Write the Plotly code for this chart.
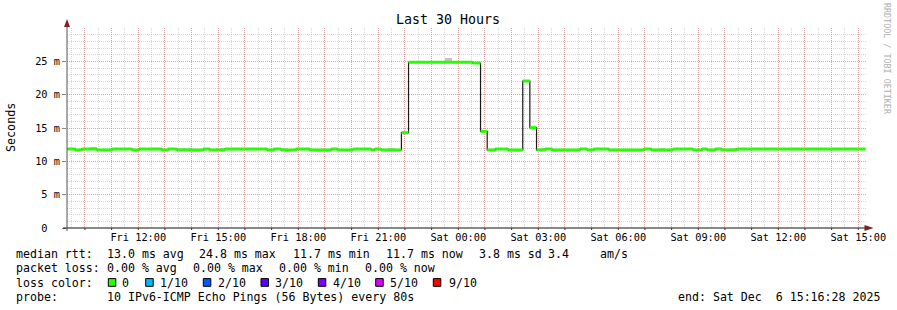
import plotly.graph_objects as go
import pandas as pd

# ---------------- data ----------------
LOW, HIGH = 11.7, 11.85
step_start = [
    "2025-12-05 09:20", "2025-12-05 09:38", "2025-12-05 09:53", "2025-12-05 10:27",
    "2025-12-05 11:01", "2025-12-05 11:46", "2025-12-05 12:02", "2025-12-05 12:53",
    "2025-12-05 13:07", "2025-12-05 13:27", "2025-12-05 14:26", "2025-12-05 14:41",
    "2025-12-05 15:15", "2025-12-05 16:50", "2025-12-05 17:05", "2025-12-05 17:21",
    "2025-12-05 17:55", "2025-12-05 18:26", "2025-12-05 19:14", "2025-12-05 19:29",
    "2025-12-05 20:03", "2025-12-05 20:44", "2025-12-05 20:52", "2025-12-05 21:06",
    "2025-12-05 21:52", "2025-12-05 22:08", "2025-12-06 00:32", "2025-12-06 00:50",
    "2025-12-06 01:05", "2025-12-06 01:23", "2025-12-06 01:52", "2025-12-06 02:25",
    "2025-12-06 02:41", "2025-12-06 02:56", "2025-12-06 03:15", "2025-12-06 03:31",
    "2025-12-06 04:34", "2025-12-06 04:50", "2025-12-06 05:05", "2025-12-06 05:39",
    "2025-12-06 06:58", "2025-12-06 07:14", "2025-12-06 08:03", "2025-12-06 08:48",
    "2025-12-06 09:08", "2025-12-06 09:20", "2025-12-06 09:38", "2025-12-06 09:53",
    "2025-12-06 10:27",
]
median_ms = [
    HIGH, LOW, HIGH, LOW,
    HIGH, LOW, HIGH, LOW,
    HIGH, LOW, HIGH, LOW,
    HIGH, LOW, HIGH, LOW,
    HIGH, LOW, HIGH, LOW,
    HIGH, LOW, HIGH, LOW,
    14.3, 24.85, 24.75, 14.5,
    LOW, HIGH, LOW, 22.05,
    15.05, LOW, HIGH, LOW,
    HIGH, LOW, HIGH, LOW,
    HIGH, LOW, HIGH, LOW,
    HIGH, LOW, HIGH, LOW,
    HIGH,
]
data_end = "2025-12-06 15:16"

# smoke (spread of pings above the median)
smoke_start = ["2025-12-05 10:11", "2025-12-05 13:23", "2025-12-05 14:55", "2025-12-05 17:21",
               "2025-12-05 21:22", "2025-12-05 23:30", "2025-12-06 02:56", "2025-12-06 07:29",
               "2025-12-06 10:11"]
smoke_end = ["2025-12-05 10:27", "2025-12-05 13:58", "2025-12-05 15:15", "2025-12-05 17:37",
             "2025-12-05 21:38", "2025-12-05 23:46", "2025-12-06 03:15", "2025-12-06 07:45",
             "2025-12-06 10:27"]
smoke_base = [HIGH, LOW, LOW, LOW, LOW, 24.85, LOW, LOW, LOW]
smoke_max = [12.2, 12.05, 12.05, 12.05, 12.05, 25.45, 12.05, 12.05, 12.05]

x_range = ["2025-12-05 09:19:34", "2025-12-06 15:19:34"]
hour_ticks = pd.date_range("2025-12-05 10:00", "2025-12-06 15:00", freq="1h")
label_ticks = {"2025-12-05 12:00": "Fri 12:00", "2025-12-05 15:00": "Fri 15:00",
               "2025-12-05 18:00": "Fri 18:00", "2025-12-05 21:00": "Fri 21:00",
               "2025-12-06 00:00": "Sat 00:00", "2025-12-06 03:00": "Sat 03:00",
               "2025-12-06 06:00": "Sat 06:00", "2025-12-06 09:00": "Sat 09:00",
               "2025-12-06 12:00": "Sat 12:00", "2025-12-06 15:00": "Sat 15:00"}
y_tickvals = [0, 5, 10, 15, 20, 25]
y_ticktext = ["0\u00a0\u00a0", "5 m", "10 m", "15 m", "20 m", "25 m"]

loss_labels = ["0", "1/10", "2/10", "3/10", "4/10", "5/10", "9/10"]
loss_colors = ["#26ff00", "#00b8ff", "#0059ff", "#5e00ff", "#7e00ff", "#dd00ff", "#ff0000"]

title_text = "Last 30 Hours"
y_title = "Seconds"
watermark = "RRDTOOL / TOBI OETIKER"
legend_rows = [
    [(16, "median rtt:"), (107, "13.0 ms avg"), (199, "24.8 ms max"), (292.5, "11.7 ms min"),
     (386, "11.7 ms now"), (478.5, "3.8 ms sd"), (547.5, "3.4"), (599.5, "am/s")],
    [(16, "packet loss:"), (107, "0.00 % avg"), (192.5, "0.00 % max"), (278.5, "0.00 % min"),
     (365, "0.00 % now")],
    [(16, "loss color:")],
    [(16, "probe:"), (107, "10 IPv6-ICMP Echo Pings (56 Bytes) every 80s"),
     (678, "end: Sat Dec\u00a0\u00a06 15:16:28 2025")],
]
row_y = [254.3, 268.3, 282.6, 296.6]
loss_box_x = [108.3, 145.7, 203.3, 261, 318.3, 375.7, 433.3]
loss_text_x = [122.3, 160.3, 217.5, 275.3, 332.5, 390, 449.3]

# ---------------- figure ----------------
L, R, T, B = 67, 30, 28, 82
W, H = 897, 310
PW, PH = W - L - R, H - T - B


def px_x(px):
    return (px - L) / PW


def px_y(py):
    return (H - B - py) / PH


FONT = "DejaVu Sans Mono"
fig = go.Figure()

# smoke
starts = pd.to_datetime(smoke_start)
ends = pd.to_datetime(smoke_end)
fig.add_trace(go.Bar(
    x=starts, y=[m - b for m, b in zip(smoke_max, smoke_base)], base=smoke_base,
    width=[(e - s).total_seconds() * 1000 for s, e in zip(starts, ends)],
    offset=0, marker=dict(color="#c4c4c4", line=dict(width=0)), hoverinfo="skip",
    showlegend=False))

# black step line
st = list(pd.to_datetime(step_start)) + [pd.to_datetime(data_end)]
fig.add_trace(go.Scatter(x=st, y=median_ms + [median_ms[-1]], mode="lines",
                         line=dict(color="#1a1a1a", width=1.2, shape="hv"),
                         hoverinfo="skip", showlegend=False))

# green loss-coloured median segments
gx, gy = [], []
for i, v in enumerate(median_ms):
    gx += [st[i], st[i + 1], None]
    gy += [v, v, None]
fig.add_trace(go.Scatter(x=gx, y=gy, mode="lines",
                         line=dict(color=loss_colors[0], width=3),
                         hoverinfo="skip", showlegend=False))

grid_dash = "1px,1px"
MAJOR = "rgba(238,110,110,0.5)"
MINOR = "rgba(150,150,150,0.38)"
fig.update_layout(
    width=W, height=H, margin=dict(l=L, r=R, t=T, b=B),
    paper_bgcolor="white", plot_bgcolor="white", showlegend=False,
    bargap=0,
    font=dict(family=FONT, color="#000"),
    xaxis=dict(
        type="date", range=x_range, showline=False, zeroline=False,
        tickmode="array", tickvals=list(hour_ticks),
        ticktext=[label_ticks.get(t.strftime("%Y-%m-%d %H:%M"), "") for t in hour_ticks],
        ticks="outside", ticklen=0, tickcolor="#555",
        tickfont=dict(family=FONT, size=10.3, color="#000"),
        showgrid=True, gridcolor=MAJOR, griddash=grid_dash, gridwidth=1,
        minor=dict(dtick=1800000, tick0="2025-12-05 09:30", showgrid=True,
                   gridcolor=MINOR, griddash=grid_dash, ticks=""),
        fixedrange=True,
    ),
    yaxis=dict(
        range=[0, 30], showline=False, zeroline=False,
        tickmode="array", tickvals=y_tickvals, ticktext=y_ticktext,
        ticks="outside", ticklen=4, tickcolor="#888",
        tickfont=dict(family=FONT, size=10.3, color="#000"),
        showgrid=True, gridcolor=MAJOR, griddash=grid_dash, gridwidth=1,
        minor=dict(dtick=1, tick0=0, showgrid=True,
                   gridcolor=MINOR, griddash=grid_dash, ticks=""),
        fixedrange=True,
    ),
)

shapes = []
# hourly tick marks under the x axis
for t in hour_ticks:
    shapes.append(dict(type="line", xref="x", yref="paper", x0=t, x1=t,
                       y0=0, y1=px_y(230), line=dict(color="#444", width=1)))
# axes
shapes.append(dict(type="line", xref="paper", yref="paper", x0=px_x(63), x1=px_x(868),
                   y0=0, y1=0, line=dict(color="#111", width=1)))
shapes.append(dict(type="line", xref="paper", yref="paper", x0=0, x1=0,
                   y0=px_y(231), y1=px_y(25), line=dict(color="#555", width=1)))
# arrows
shapes.append(dict(type="path", xref="paper", yref="paper",
                   path=f"M {px_x(864.5)} {px_y(225)} L {px_x(873.5)} {px_y(228)} L {px_x(864.5)} {px_y(231)} Z",
                   fillcolor="#802020", line=dict(width=0)))
shapes.append(dict(type="path", xref="paper", yref="paper",
                   path=f"M {px_x(64)} {px_y(27)} L {px_x(67)} {px_y(19)} L {px_x(70)} {px_y(27)} Z",
                   fillcolor="#802020", line=dict(width=0)))
# loss colour boxes
for bx, c in zip(loss_box_x, loss_colors):
    shapes.append(dict(type="rect", xref="paper", yref="paper",
                       x0=px_x(bx), x1=px_x(bx + 7.5), y0=px_y(278.6), y1=px_y(286.3),
                       fillcolor=c, line=dict(color="#000", width=1)))
fig.update_layout(shapes=shapes)

ann = []
ann.append(dict(text=title_text, x=px_x(448), y=px_y(19.5), xref="paper", yref="paper",
                showarrow=False, xanchor="center", yanchor="middle",
                font=dict(family=FONT, size=13.3, color="#000")))
ann.append(dict(text=y_title, x=px_x(11), y=px_y(127), xref="paper", yref="paper",
                showarrow=False, textangle=-90, xanchor="center", yanchor="middle",
                font=dict(family=FONT, size=11.7, color="#000")))
ann.append(dict(text=watermark, x=px_x(887), y=px_y(59), xref="paper", yref="paper",
                showarrow=False, textangle=90, xanchor="center", yanchor="middle",
                font=dict(family=FONT, size=8.4, color="#b0b0b0")))
for row, yy in zip(legend_rows, row_y):
    for xx, txt in row:
        ann.append(dict(text=txt.replace(" ", "\u00a0"), x=px_x(xx), y=px_y(yy),
                        xref="paper", yref="paper", showarrow=False,
                        xanchor="left", yanchor="middle", borderpad=0, borderwidth=0,
                        font=dict(family=FONT, size=11.6, color="#000")))
for xx, txt in zip(loss_text_x, loss_labels):
    ann.append(dict(text=txt, x=px_x(xx), y=px_y(row_y[2]), xref="paper", yref="paper",
                    showarrow=False, xanchor="left", yanchor="middle", borderpad=0,
                    borderwidth=0, font=dict(family=FONT, size=11.6, color="#000")))
fig.update_layout(annotations=ann)

fig.write_html("out.html")
